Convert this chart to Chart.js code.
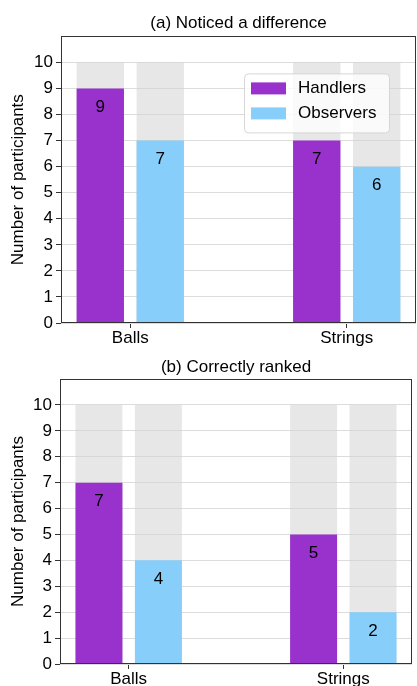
<!DOCTYPE html>
<html>
<head>
<meta charset="utf-8">
<script src="https://cdn.jsdelivr.net/npm/chart.js@4.4.1/dist/chart.umd.min.js"></script>
<style>
    html, body { margin: 0; padding: 0; background: #fff; }
    .panel { position: relative; width: 417px; }
    #topPanel { height: 350px; }
    #bottomPanel { height: 336px; }
</style>
</head>
<body>
<div class="panel" id="topPanel"><canvas id="noticedChart"></canvas></div>
<div class="panel" id="bottomPanel"><canvas id="rankedChart"></canvas></div>
<script>
const categories = ['Balls', 'Strings'];
const groups = ['Handlers', 'Observers'];
const noticedHandlers = [9, 7];
const noticedObservers = [7, 6];
const rankedHandlers = [7, 5];
const rankedObservers = [4, 2];
const totalParticipants = [10, 10];
const yTicks = [0, 1, 2, 3, 4, 5, 6, 7, 8, 9, 10];

const FONT = 'Liberation Sans, Arial, sans-serif';
const colors = { Handlers: '#9932cc', Observers: '#87cefa', total: 'rgba(211, 211, 211, 0.55)' };

Chart.defaults.font.family = FONT;
Chart.defaults.color = '#000';

function points(values) {
    return values.map((v, i) => ({ x: i, y: v }));
}

// frame, value labels inside bars and the legend box
const panelDecor = {
    id: 'panelDecor',
    afterDraw(chart, args, opts) {
        const { ctx, chartArea: a } = chart;
        ctx.save();

        ctx.strokeStyle = '#333';
        ctx.lineWidth = 1;
        const l = Math.round(a.left) + 0.5, t = Math.round(a.top) + 0.5;
        const r = Math.round(a.right) - 0.5, b = Math.round(a.bottom) - 0.5;
        ctx.strokeRect(l, t, r - l, b - t);

        ctx.fillStyle = '#000';
        ctx.font = `17px ${FONT}`;
        ctx.textAlign = 'center';
        ctx.textBaseline = 'middle';
        chart.data.datasets.forEach((ds, i) => {
            if (ds.isBackground) return;
            chart.getDatasetMeta(i).data.forEach((bar, j) => {
                ctx.fillText(String(ds.data[j].y), bar.x, bar.y + 19);
            });
        });

        if (opts.legend) {
            const x = a.right - 172, y = a.top + 37, w = 145, h = 59;
            ctx.beginPath();
            ctx.roundRect(x + 0.5, y + 0.5, w, h, 4);
            ctx.fillStyle = 'rgba(255, 255, 255, 0.8)';
            ctx.fill();
            ctx.strokeStyle = '#d6d6d6';
            ctx.stroke();

            const items = chart.data.datasets.filter(ds => !ds.isBackground);
            ctx.textAlign = 'left';
            items.forEach((ds, i) => {
                const cy = y + 15 + i * 25;
                ctx.fillStyle = ds.backgroundColor;
                ctx.fillRect(x + 7, cy - 6, 35, 12);
                ctx.fillStyle = '#000';
                ctx.fillText(ds.label, x + 54, cy);
            });
        }
        ctx.restore();
    }
};

function buildChart(canvasId, title, handlers, observers, opts) {
    const ctx = document.getElementById(canvasId).getContext('2d');
    return new Chart(ctx, {
        type: 'bar',
        data: {
            datasets: [
                { label: groups[0], data: points(handlers), backgroundColor: colors.Handlers, stack: 'h', order: 0 },
                { label: groups[1], data: points(observers), backgroundColor: colors.Observers, stack: 'o', order: 0 },
                { label: 'total', data: points(totalParticipants), backgroundColor: colors.total, stack: 'h', order: 1, isBackground: true },
                { label: 'total', data: points(totalParticipants), backgroundColor: colors.total, stack: 'o', order: 1, isBackground: true }
            ]
        },
        options: {
            responsive: true,
            maintainAspectRatio: false,
            animation: false,
            categoryPercentage: 0.554,
            barPercentage: 0.79,
            layout: { padding: { left: 0, right: opts.right, top: 0, bottom: 0 } },
            plugins: {
                legend: { display: false },
                tooltip: { enabled: false },
                title: {
                    display: true,
                    fullSize: false,
                    text: title,
                    color: '#000',
                    font: { size: 17, weight: 'normal' },
                    padding: { top: opts.titleTop, bottom: opts.titleBottom }
                },
                panelDecor: { legend: opts.legend }
            },
            scales: {
                x: {
                    type: 'linear',
                    min: -0.32,
                    max: 1.32,
                    offset: false,
                    afterBuildTicks: s => { s.ticks = categories.map((c, i) => ({ value: i })); },
                    afterFit: s => { s.height = opts.xHeight; },
                    ticks: {
                        callback: (v, i) => categories[i],
                        font: { size: 17 },
                        color: '#000',
                        padding: 0,
                        maxRotation: 0,
                        autoSkip: false
                    },
                    grid: { offset: false, drawOnChartArea: false, tickLength: 5, tickColor: '#333' },
                    border: { display: false }
                },
                y: {
                    min: 0,
                    max: 11,
                    stacked: false,
                    afterBuildTicks: s => { s.ticks = yTicks.map(v => ({ value: v })); },
                    afterFit: s => { s.width = opts.left; },
                    ticks: { font: { size: 17 }, color: '#000', padding: 3 },
                    grid: { color: '#dcdcdc', tickLength: 5, tickColor: '#333' },
                    border: { display: false },
                    title: {
                        display: true,
                        text: 'Number of participants',
                        color: '#000',
                        font: { size: 17 },
                        padding: { top: 8, bottom: 0 }
                    }
                }
            }
        },
        plugins: [panelDecor]
    });
}

buildChart('noticedChart', '(a) Noticed a difference', noticedHandlers, noticedObservers,
    { left: 61, right: 1, titleTop: 13, titleBottom: 3, xHeight: 27, legend: true });
buildChart('rankedChart', '(b) Correctly ranked', rankedHandlers, rankedObservers,
    { left: 60, right: 5, titleTop: 7, titleBottom: 1.6, xHeight: 22, legend: false });
</script>
</body>
</html>
